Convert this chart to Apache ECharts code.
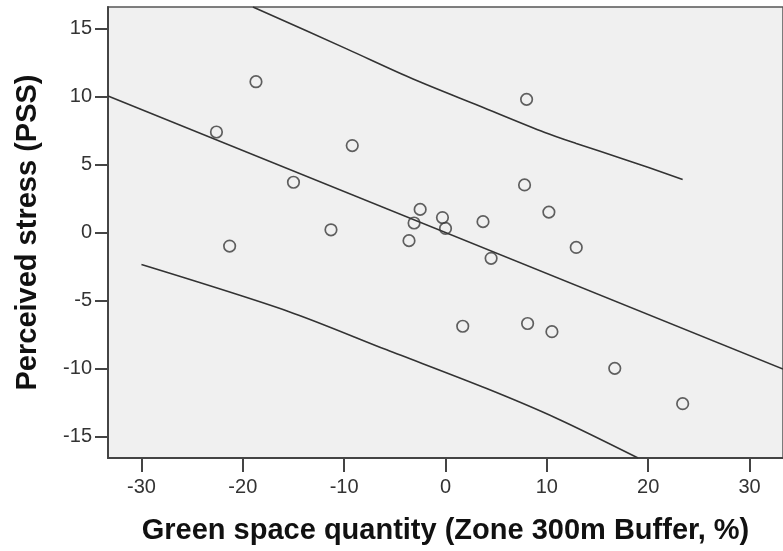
<!DOCTYPE html>
<html>
<head>
<meta charset="utf-8">
<script src="https://cdn.jsdelivr.net/npm/echarts@6/dist/echarts.min.js"></script>
<style>
  html, body { margin: 0; padding: 0; background: #fff; }
  #chart { width: 783px; height: 551px; }
</style>
</head>
<body>
<div id="chart"></div>
<script>
// Scatter of green space vs perceived stress, SPSS look: fit line plus
// 95% individual prediction band.
const greenSpace = [-22.6, -18.7, -21.3, -15.0, -9.2, -11.3, -2.5, -3.1, -3.6, -0.3, 0.0,
  3.7, 4.5, 8.0, 7.8, 10.2, 12.9, 1.7, 8.1, 10.5, 16.7, 23.4];
const stress = [7.4, 11.1, -1.0, 3.7, 6.4, 0.2, 1.7, 0.7, -0.6, 1.1, 0.3,
  0.8, -1.9, 9.8, 3.5, 1.5, -1.1, -6.9, -6.7, -7.3, -10.0, -12.6];

const fitX = [-33.3, 33.3];
const fitY = [10.05, -10.05];

const lowerX = [-30.0, -15.5, -5.8, 4.0, 11.0, 19.0];
const lowerY = [-2.36, -5.81, -8.64, -11.47, -13.69, -16.6];

const upperX = [-19.0, -9.7, -3.2, 3.3, 9.8, 12.9, 17.6, 23.4];
const upperY = [16.6, 13.5, 11.3, 9.33, 7.36, 6.55, 5.4, 3.91];

const xTicks = [-30, -20, -10, 0, 10, 20, 30];
const yTicks = [-15, -10, -5, 0, 5, 10, 15];

const zip = (xs, ys) => xs.map((x, i) => [x, ys[i]]);

const ink = '#333';
const lineStyle = { color: ink, width: 1.6 };

const chart = echarts.init(document.getElementById('chart'));
chart.setOption({
  animation: false,
  backgroundColor: '#fff',
  textStyle: { fontFamily: '"Liberation Sans", Arial, sans-serif' },
  grid: {
    left: 108, top: 7, width: 682, height: 451,
    show: true, backgroundColor: '#f0f0f0', borderColor: '#555', borderWidth: 1.5,
  },
  xAxis: {
    type: 'value', min: -33.3, max: 33.3,
    name: 'Green space quantity (Zone 300m Buffer, %)',
    nameLocation: 'middle', nameGap: 58,
    nameTextStyle: { fontSize: 29, fontWeight: 'bold', color: '#111' },
    axisLine: { onZero: false, lineStyle: { color: '#444', width: 2 } },
    axisTick: { show: true, length: 14, customValues: xTicks, lineStyle: { color: '#444', width: 2 } },
    axisLabel: { customValues: xTicks, margin: 19, fontSize: 20, color: '#333' },
    splitLine: { show: false },
  },
  yAxis: {
    type: 'value', min: -16.6, max: 16.6,
    name: 'Perceived stress (PSS)',
    nameLocation: 'middle', nameGap: 66, nameRotate: 90,
    nameTextStyle: { fontSize: 29, fontWeight: 'bold', color: '#111' },
    axisLine: { show: true, onZero: false, lineStyle: { color: '#444', width: 2 } },
    axisTick: { show: true, length: 13, customValues: yTicks, lineStyle: { color: '#444', width: 2 } },
    axisLabel: { customValues: yTicks, margin: 16, fontSize: 20, color: '#333' },
    splitLine: { show: false },
  },
  series: [
    { type: 'line', data: zip(fitX, fitY), showSymbol: false, lineStyle, silent: true },
    { type: 'line', data: zip(lowerX, lowerY), showSymbol: false, smooth: 0.3, lineStyle, silent: true },
    { type: 'line', data: zip(upperX, upperY), showSymbol: false, smooth: 0.3, lineStyle, silent: true },
    {
      type: 'scatter', data: zip(greenSpace, stress), symbol: 'circle', symbolSize: 11.5,
      itemStyle: { color: 'rgba(0,0,0,0)', borderColor: '#3a3a3a', borderWidth: 1.7 },
      z: 5,
    },
  ],
});
</script>
</body>
</html>
